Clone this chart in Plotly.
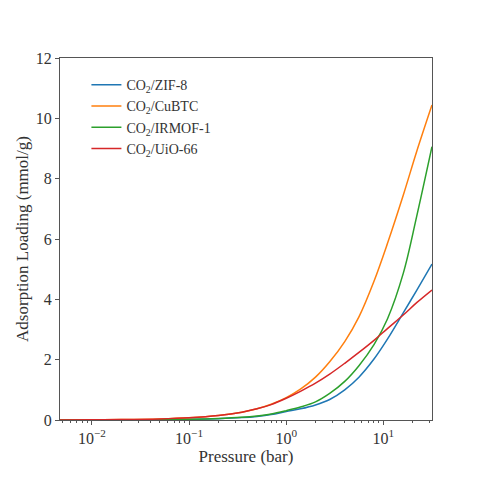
import plotly.graph_objects as go

# pressure grid (bar)
pressure = [0.0047, 0.01, 0.02, 0.05, 0.1, 0.2, 0.35, 0.5, 0.7, 1, 1.4, 2, 2.8, 4, 5.6, 8, 11, 16, 22, 31.6]

# loadings (mmol/g)
zif8 = [0.001, 0.002, 0.004, 0.01, 0.02, 0.045, 0.08, 0.12, 0.18, 0.28, 0.37, 0.5, 0.68, 1.0, 1.42, 2.02, 2.68, 3.55, 4.3, 5.17]
cubtc = [0.0035, 0.0075, 0.015, 0.037, 0.075, 0.15, 0.26, 0.37, 0.52, 0.74, 1.02, 1.42, 1.93, 2.6, 3.42, 4.6, 5.85, 7.45, 8.9, 10.44]
irmof1 = [0.001, 0.003, 0.005, 0.012, 0.025, 0.05, 0.09, 0.135, 0.2, 0.31, 0.43, 0.6, 0.88, 1.28, 1.8, 2.5, 3.35, 4.86, 6.75, 9.06]
uio66 = [0.0035, 0.0075, 0.015, 0.037, 0.075, 0.15, 0.26, 0.37, 0.51, 0.72, 0.95, 1.22, 1.52, 1.88, 2.24, 2.64, 3.03, 3.48, 3.89, 4.31]

names = ["CO<sub>2</sub>/ZIF-8", "CO<sub>2</sub>/CuBTC", "CO<sub>2</sub>/IRMOF-1", "CO<sub>2</sub>/UiO-66"]
colors = ["#1f77b4", "#ff7f0e", "#2ca02c", "#d62728"]

x_ticks = [0.01, 0.1, 1, 10]
x_ticktext = ["10<sup>−2</sup>", "10<sup>−1</sup>", "10<sup>0</sup>", "10<sup>1</sup>"]
minor_ticks = [m * d for d in [0.001, 0.01, 0.1, 1, 10] for m in range(2, 10)]

font = "Liberation Serif, DejaVu Serif, serif"

fig = go.Figure()
for ys, name, c in zip([zif8, cubtc, irmof1, uio66], names, colors):
    fig.add_trace(go.Scatter(x=pressure, y=ys, mode="lines", name=name,
                             line=dict(color=c, width=1.5, shape="spline", smoothing=1)))

# page body adds ~8px offset, margins compensate
fig.update_layout(
    width=480, height=480,
    margin=dict(l=52, r=56, t=50, b=68),
    plot_bgcolor="white", paper_bgcolor="white",
    font=dict(family=font, size=16, color="#333"),
    showlegend=True,
    legend=dict(x=0.071, y=0.969, xanchor="left", yanchor="top",
                bgcolor="rgba(0,0,0,0)", font=dict(size=14), tracegroupgap=0),
)
fig.update_xaxes(
    type="log", range=[-2.328, 1.5],
    tickmode="array", tickvals=x_ticks, ticktext=x_ticktext,
    ticks="outside", ticklen=4, tickcolor="#555",
    minor=dict(tickmode="array", tickvals=minor_ticks, ticks="outside", ticklen=2, tickcolor="#555"),
    showline=True, linecolor="#555", linewidth=1, mirror=True,
    showgrid=False, zeroline=False,
    title=dict(text="Pressure (bar)", font=dict(size=17), standoff=0),
)
fig.update_yaxes(
    range=[0, 12], tickvals=[0, 2, 4, 6, 8, 10, 12],
    ticks="outside", ticklen=4, tickcolor="#555",
    showline=True, linecolor="#555", linewidth=1, mirror=True,
    showgrid=False, zeroline=False,
    title=dict(text="Adsorption Loading (mmol/g)", font=dict(size=17), standoff=2),
)

fig.write_html("out.html")
